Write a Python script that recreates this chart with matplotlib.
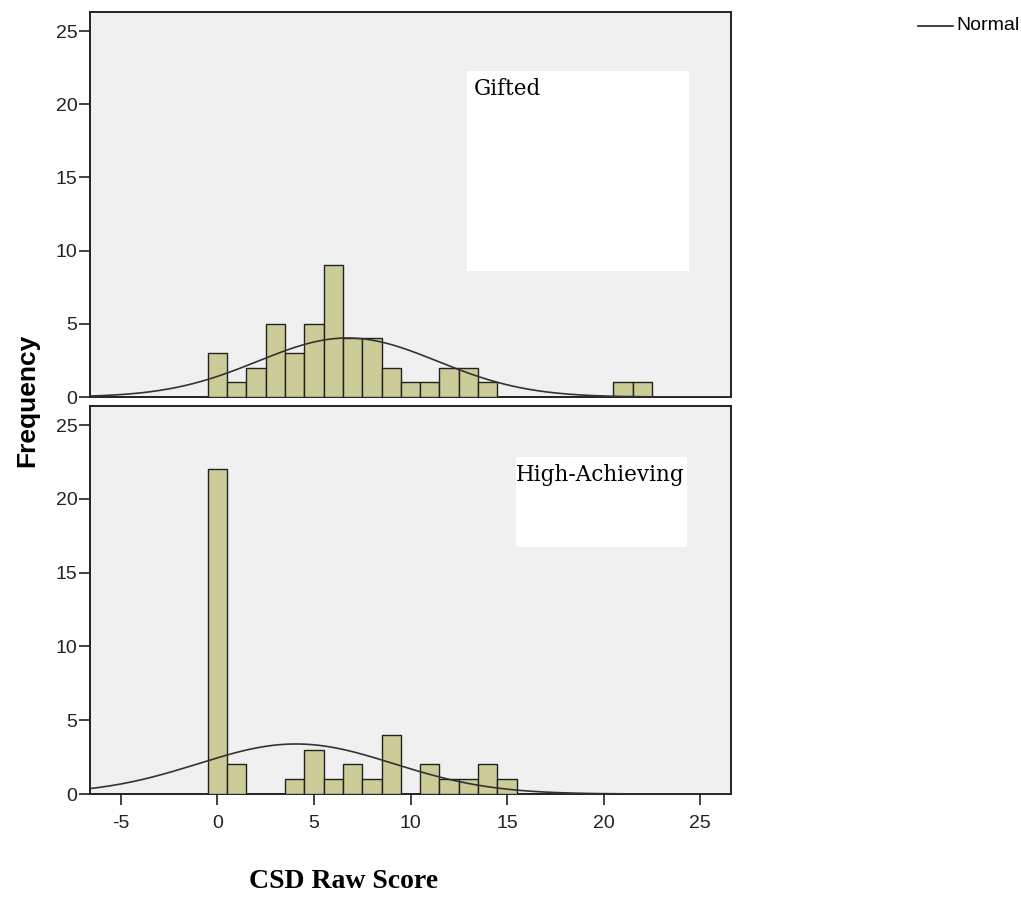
import numpy as np
import matplotlib.pyplot as plt

plt.rcParams["axes.unicode_minus"] = False
plt.rcParams["font.family"] = ["Liberation Sans", "DejaVu Sans"]

# histogram counts per integer score (bin width 1)
gifted_scores = [0, 1, 2, 3, 4, 5, 6, 7, 8, 9, 10, 11, 12, 13, 14, 21, 22]
gifted_counts = [3, 1, 2, 5, 3, 5, 9, 4, 4, 2, 1, 1, 2, 2, 1, 1, 1]

high_scores = [0, 1, 4, 5, 6, 7, 8, 9, 11, 12, 13, 14, 15]
high_counts = [22, 2, 1, 3, 1, 2, 1, 4, 2, 1, 1, 2, 1]

panels = [("Gifted", gifted_scores, gifted_counts),
          ("High-Achieving", high_scores, high_counts)]

x_ticks = [-5, 0, 5, 10, 15, 20, 25]
y_ticks = [0, 5, 10, 15, 20, 25]

bar_color = "#cccc99"
bg_color = "#f0f0f0"

fig = plt.figure(figsize=(10.21, 8.97), dpi=100)

W, H = 1021, 897
boxes = [(90, 12, 731, 397), (90, 406, 731, 794)]
label_boxes = [(467, 71, 689, 271), (516, 457, 687, 547)]
label_pos = [(474, 89), (516, 475)]

xmin, xmax = -6.6, 26.6

for i, (name, scores, counts) in enumerate(panels):
    l, t, r, b = boxes[i]
    ax = fig.add_axes([l / W, 1 - b / H, (r - l) / W, (b - t) / H])
    ax.set_facecolor(bg_color)
    ax.bar(scores, counts, width=1.0, color=bar_color, edgecolor="#222222",
           linewidth=1.0, zorder=3)

    # normal curve fitted to the binned data
    s = np.array(scores, dtype=float)
    c = np.array(counts, dtype=float)
    n = c.sum()
    mu = (s * c).sum() / n
    sd = np.sqrt(((s - mu) ** 2 * c).sum() / (n - 1))
    xs = np.linspace(xmin, xmax, 400)
    ys = n / (sd * np.sqrt(2 * np.pi)) * np.exp(-0.5 * ((xs - mu) / sd) ** 2)
    ax.plot(xs, ys, color="#333333", linewidth=1.2, zorder=4)

    ax.set_xlim(xmin, xmax)
    ax.set_ylim(0, 26.3)
    ax.set_yticks(y_ticks)
    ax.set_xticks(x_ticks)
    ax.tick_params(axis="y", direction="out", length=8, width=1.2,
                   labelsize=14, colors="#222222", pad=1)
    if i == 0:
        ax.tick_params(axis="x", bottom=False, labelbottom=False)
    else:
        ax.tick_params(axis="x", direction="out", length=8, width=1.2,
                       labelsize=14, colors="#222222", pad=7)
    for sp in ax.spines.values():
        sp.set_linewidth(1.4)
        sp.set_color("#222222")

    # white label box
    bl, bt, br, bb = label_boxes[i]
    fig.patches.append(plt.Rectangle((bl / W, 1 - bb / H), (br - bl) / W,
                                     (bb - bt) / H, transform=fig.transFigure,
                                     facecolor="white", edgecolor="none",
                                     zorder=5))
    tx, ty = label_pos[i]
    fig.text(tx / W, 1 - ty / H, name, fontsize=15.5,
             family="DejaVu Serif", va="center", ha="left", zorder=6)

fig.text(27 / W, 1 - 400 / H, "Frequency", rotation=90, fontsize=19,
         fontweight="bold", va="center", ha="center")
fig.text(344 / W, 1 - 881 / H, "CSD Raw Score", fontsize=20,
         fontweight="bold", family="Liberation Serif", va="center",
         ha="center")

# legend entry
fig.lines.append(plt.Line2D([918 / W, 953 / W], [1 - 26 / H, 1 - 26 / H],
                            transform=fig.transFigure, color="#222222",
                            linewidth=1.2))
fig.text(956 / W, 1 - 26 / H, "Normal", fontsize=14, va="center", ha="left")

fig.savefig("out.png", dpi=100, facecolor="white")
